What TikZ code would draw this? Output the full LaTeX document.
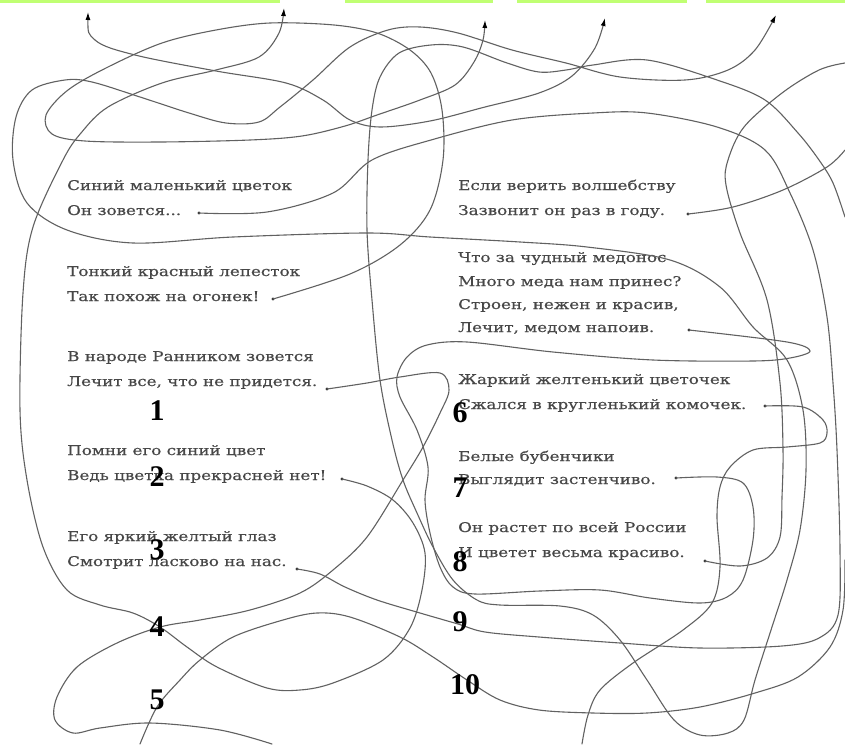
\documentclass[tikz,border=0pt]{standalone}
\usepackage{fontspec}
\setmainfont{Liberation Serif}
\newfontfamily\versefont[FakeStretch=1.25,FakeBold=0.5]{DejaVu Serif}
\usetikzlibrary{arrows.meta}

\begin{document}
\begin{tikzpicture}[x=1pt,y=-1pt,
	verse/.style={anchor=base west,inner sep=0pt,text=black!72,font=\versefont\fontsize{13.4}{15}\selectfont},
	num/.style={inner sep=0pt,font=\fontsize{30}{30}\selectfont\bfseries},
	wire/.style={draw=black!62,line width=1.1pt,line cap=round},
	tip/.style={-{Latex[length=8pt,width=5pt,color=black]}},
	dot/.style={circle,fill=black!80,inner sep=0pt,minimum size=3.4pt}]
	\useasboundingbox (0,0) rectangle (845,744);
	\fill[white] (0,0) rectangle (845,744);
	\foreach \a/\b in {0/280,345/493,517/687,706/845}
		\fill[green!45!yellow!55] (\a,0) rectangle (\b,3);

	\node[verse] (a1) at (67,190) {Синий маленький цветок};
	\node[verse] (a2) at (67,215) {Он зовется...};
	\node[verse] (b1) at (67,276) {Тонкий красный лепесток};
	\node[verse] (b2) at (67,301) {Так похож на огонек!};
	\node[verse] (c1) at (67,361) {В народе Ранником зовется};
	\node[verse] (c2) at (67,386) {Лечит все, что не придется.};
	\node[verse] (e1) at (67,455) {Помни его синий цвет};
	\node[verse] (e2) at (67,480) {Ведь цветка прекрасней нет!};
	\node[verse] (f1) at (67,541) {Его яркий желтый глаз};
	\node[verse] (f2) at (67,566) {Смотрит ласково на нас.};
	\node[verse] (g1) at (458,190) {Если верить волшебству};
	\node[verse] (g2) at (458,215) {Зазвонит он раз в году.};
	\node[verse] (h1) at (458,262) {Что за чудный медонос};
	\node[verse] (h2) at (458,286) {Много меда нам принес?};
	\node[verse] (h3) at (458,309) {Строен, нежен и красив,};
	\node[verse] (h4) at (458,332) {Лечит, медом напоив.};
	\node[verse] (k1) at (458,384) {Жаркий желтенький цветочек};
	\node[verse] (k2) at (458,409) {Сжался в кругленький комочек.};
	\node[verse] (m1) at (458,461) {Белые бубенчики};
	\node[verse] (m2) at (458,484) {Выглядит застенчиво.};
	\node[verse] (n1) at (458,532) {Он растет по всей России};
	\node[verse] (n2) at (458,557) {И цветет весьма красиво.};

	\node[dot] (d1) at (199,213) {};
	\node[dot] (d2) at (273,299) {};
	\node[dot] (d3) at (327,389) {};
	\node[dot] (d4) at (342,479) {};
	\node[dot] (d5) at (297,569) {};
	\node[dot] (d6) at (688,214) {};
	\node[dot] (d7) at (689,330) {};
	\node[dot] (d8) at (765,406) {};
	\node[dot] (d9) at (676,478) {};
	\node[dot] (d10) at (705,561) {};

	\coordinate (t1) at (88,12);
	\coordinate (t2) at (284,8);
	\coordinate (t3) at (485,20);
	\coordinate (t4) at (605,18);
	\coordinate (t5) at (776,15);

	\draw[wire,tip] plot[smooth,tension=0.55] coordinates {(d2) (350,274) (400,245) (430,210) (443,160) (442,110) (431,73) (410,50) (377,33) (334,25) (270,23) (216,30) (162,43) (108,67) (68,90) (46,115) (52,134) (85,141) (160,142) (250,140) (302,136) (345,126) (377,115) (420,100) (455,85) (474,62) (483,40) (t3)};
	\draw[wire,{Latex[length=8pt,width=5pt,color=black]}-{Latex[length=8pt,width=5pt,color=black]}] plot[smooth,tension=0.55] coordinates {(t1) (95,40) (135,55) (216,71) (286,83) (323,100) (350,120) (380,127) (430,121) (485,107) (539,93) (572,76) (595,48) (t4)};
	\draw[wire] plot[smooth,tension=0.55] coordinates {(d1) (267,212) (333,193) (372,160) (431,140) (512,120) (593,113) (647,113) (717,127) (765,150) (790,193) (813,250) (827,317) (833,383) (837,450) (840,550) (838,615) (819,638) (782,646) (700,648) (620,643) (539,637) (485,632) (458,624) (420,613) (377,600) (345,587) (320,574) (d5)};
	\draw[wire,tip] plot[smooth,tension=0.55] coordinates {(d4) (367,486) (393,500) (413,523) (425,553) (422,590) (410,628) (383,660) (333,683) (300,690) (267,688) (217,667) (187,647) (160,627) (133,613) (100,605) (67,590) (43,547) (27,480) (20,410) (23,293) (33,227) (63,160) (81,133) (108,107) (162,83) (216,70) (259,57) (279,33) (t2)};
	\draw[wire] plot[smooth,tension=0.55] coordinates {(d3) (367,383) (400,377) (440,373) (449,390) (440,413) (423,447) (403,480) (367,537) (333,570) (300,593) (250,610) (200,620) (160,627) (117,643) (77,667) (57,697) (55,720) (73,733) (100,728) (150,723) (220,730) (272,744)};
	\draw[wire] plot[smooth,tension=0.55] coordinates {(140,744) (157,707) (180,680) (200,660) (233,637) (283,620) (317,613) (350,617) (400,637) (433,657) (467,680) (500,700) (539,710) (593,713) (647,713) (700,707) (755,693) (798,677) (830,647) (843,610) (845,560)};
	\draw[wire,tip] plot[smooth,tension=0.55] coordinates {(845,217) (833,183) (819,160) (798,133) (765,100) (717,80) (647,60) (593,65) (566,70) (539,72) (507,63) (463,47) (431,45) (399,53) (380,77) (372,110) (368,160) (367,230) (372,300) (380,380) (392,440) (403,480) (417,513) (433,547) (453,580) (477,600) (500,605) (560,606) (593,615) (620,640) (647,680) (674,720) (700,735) (728,733) (744,720) (755,680) (771,630) (787,580) (800,530) (806,470) (803,410) (787,360) (753,327) (720,287) (670,260) (587,247) (520,242) (430,237) (367,233) (233,237) (133,243) (67,230) (27,203) (13,160) (16,117) (32,90) (65,80) (92,82) (140,97) (189,113) (226,123) (259,122) (280,107) (313,80) (350,47) (388,30) (420,27) (458,33) (512,50) (566,63) (620,77) (685,80) (728,70) (755,50) (t5)};
	\draw[wire] plot[smooth,tension=0.55] coordinates {(d7) (787,342) (810,351) (790,358) (753,361) (653,360) (553,352) (467,342) (427,345) (407,357) (397,377) (400,397) (417,430) (428,467) (425,500) (430,533) (440,567) (453,587) (475,594) (540,591) (600,590) (650,598) (700,603) (727,597) (743,580) (753,540) (753,507) (743,483) (717,477) (d9)};
	\draw[wire] plot[smooth,tension=0.55] coordinates {(d6) (733,207) (783,190) (827,167) (845,150)};
	\draw[wire] plot[smooth,tension=0.55] coordinates {(d8) (803,407) (823,420) (827,433) (820,443) (787,447) (753,450) (730,467) (720,487) (717,517) (720,567) (712,603) (683,630) (633,663) (600,690) (588,715) (582,744)};
	\draw[wire] plot[smooth,tension=0.55] coordinates {(845,63) (819,70) (782,93) (744,127) (728,160) (726,185) (740,233) (767,300) (780,383) (783,450) (782,497) (780,537) (767,558) (740,566) (d10)};

	\node[num] (n1) at (157,411) {1};
	\node[num] (n2) at (157,477) {2};
	\node[num] (n3) at (157,550) {3};
	\node[num] (n4) at (157,627) {4};
	\node[num] (n5) at (157,700) {5};
	\node[num] (n6) at (460,413) {6};
	\node[num] (n7) at (460,488) {7};
	\node[num] (n8) at (460,562) {8};
	\node[num] (n9) at (460,622) {9};
	\node[num] (n10) at (465,685) {10};
\end{tikzpicture}
\end{document}
